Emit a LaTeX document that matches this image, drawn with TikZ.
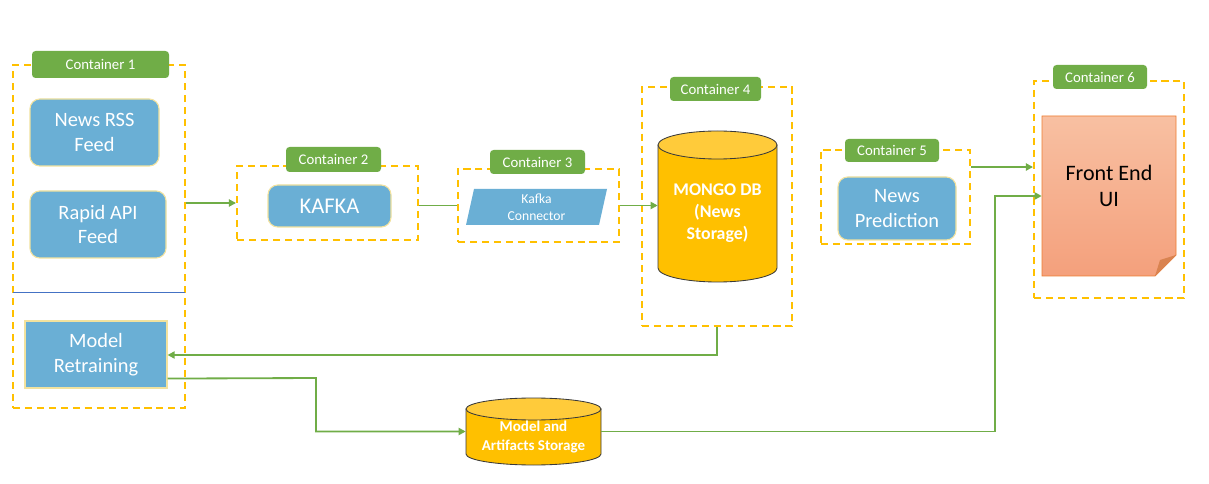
\documentclass[tikz,border=0pt]{standalone}
\usepackage{fontspec}
\setmainfont{Carlito}
\usetikzlibrary{arrows.meta,calc}
\newlength\pxl
\setlength\pxl{0.025cm}
\definecolor{boxblue}{HTML}{6AAFD5}
\definecolor{boxedge}{HTML}{F2E29E}
\definecolor{labgreen}{HTML}{70AD47}
\definecolor{dashy}{HTML}{FFC000}
\definecolor{cylfill}{HTML}{FFC000}
\definecolor{cyltop}{HTML}{FFCB3A}
\definecolor{cyledge}{HTML}{3A3A3A}
\definecolor{linkblue}{HTML}{4472C4}
\definecolor{feTop}{HTML}{F8C0A2}
\definecolor{feBot}{HTML}{F4A07C}
\definecolor{feEdge}{HTML}{ED7D31}
\definecolor{feFold}{HTML}{D98350}
\tikzset{
  cont/.style={draw=dashy, line width=1.4pt, dash pattern=on 5pt off 3.5pt, inner sep=0pt},
  lab/.style={fill=labgreen, rounded corners=2.5pt, text=white, inner sep=0pt,
    font=\fontsize{10.5}{12}\selectfont},
  rbox/.style={fill=boxblue, draw=boxedge, line width=0.8pt, rounded corners=7pt,
    text=white, align=center, inner sep=0pt, font=\fontsize{14.5}{17.7}\selectfont},
  sbox/.style={fill=boxblue, draw=boxedge, line width=0.8pt,
    text=white, align=center, inner sep=0pt, font=\fontsize{14.5}{17.7}\selectfont},
  ghost/.style={inner sep=0pt, align=center},
  arr/.style={draw=labgreen, line width=1.3pt, -{Triangle[length=5pt,width=5pt]}},
  lnk/.style={draw=labgreen, line width=1.3pt},
  cyl/.style={fill=cylfill, draw=cyledge, line width=0.6pt},
  cyltopst/.style={fill=cyltop, draw=cyledge, line width=0.6pt}
}
\begin{document}
\begin{tikzpicture}[x=0.025cm,y=-0.025cm]
\useasboundingbox[fill=white] (0,0) rectangle (1209,484);

% containers
\node[cont, minimum width=172\pxl, minimum height=343\pxl] (c1) at (99,236.5) {};
\node[cont, minimum width=181\pxl, minimum height=74\pxl] (c2) at (327.5,203) {};
\node[cont, minimum width=161\pxl, minimum height=73\pxl] (c3) at (538.5,205.5) {};
\node[cont, minimum width=150\pxl, minimum height=239\pxl] (c4) at (717,206.5) {};
\node[cont, minimum width=149\pxl, minimum height=94\pxl] (c5) at (895.5,197) {};
\node[cont, minimum width=150\pxl, minimum height=217\pxl] (c6) at (1109,189.5) {};

% labels
\node[lab, minimum width=137\pxl, minimum height=27\pxl] (l1) at (100.5,64.5) {Container 1};
\node[lab, minimum width=95\pxl, minimum height=25\pxl] (l2) at (333.5,159.5) {Container 2};
\node[lab, minimum width=95\pxl, minimum height=24\pxl] (l3) at (537.5,162) {Container 3};
\node[lab, minimum width=91\pxl, minimum height=24\pxl] (l4) at (715.5,89) {Container 4};
\node[lab, minimum width=94\pxl, minimum height=23\pxl] (l5) at (892,150.5) {Container 5};
\node[lab, minimum width=94\pxl, minimum height=24\pxl] (l6) at (1100,77) {Container 6};

% container 1 contents
\node[rbox, minimum width=129\pxl, minimum height=67\pxl] (rss) at (94.5,132.5) {News RSS\\Feed};
\node[rbox, minimum width=136\pxl, minimum height=67\pxl] (api) at (98,224.5) {Rapid API\\Feed};
\coordinate (sepL) at (13,292);
\coordinate (sepR) at (185,292);
\draw[linkblue, line width=0.7pt] (sepL) -- (sepR);
\node[sbox, minimum width=142\pxl, minimum height=67\pxl] (mr) at (96,354.5) {Model\\Retraining};

% KAFKA
\node[rbox, minimum width=123\pxl, minimum height=42\pxl, font=\fontsize{16}{19}\selectfont] (kafka) at (329.5,206) {KAFKA};

% Kafka connector (parallelogram)
\fill[boxblue] (474,189) -- (607,189) -- (599,225) -- (466,225) -- cycle;
\node[ghost, text=white, font=\fontsize{9.7}{12}\selectfont] (kc) at (536.5,207) {Kafka\\Connector};

% Mongo DB cylinder
\path[cyl] (658,145) -- (658,268) arc[start angle=180,end angle=360,x radius=59.5\pxl,y radius=14\pxl] -- (777,145) -- cycle;
\path[cyltopst] (717.5,145) ellipse[x radius=59.5\pxl, y radius=14\pxl];
\node[ghost, minimum width=119\pxl, minimum height=151\pxl] (m) at (717.5,206.5) {};
\node[ghost, text=white, font=\bfseries\fontsize{12.7}{15.6}\selectfont] (mt) at (717.5,213) {MONGO DB\\(News\\Storage)};

% News Prediction
\node[rbox, minimum width=118\pxl, minimum height=63\pxl] (np) at (897,208.5) {News\\Prediction};

% Front End UI document
\shade[top color=feTop, bottom color=feBot, draw=feEdge, line width=0.6pt]
  (1042,116) -- (1176,116) -- (1176,255) -- (1155,276) -- (1042,276) -- cycle;
\fill[feFold] (1176,255) -- (1155,276) -- (1160,260) -- cycle;
\node[ghost, minimum width=134\pxl, minimum height=160\pxl] (fe) at (1109,196) {};
\node[ghost, text=black, font=\fontsize{15.7}{19}\selectfont] (fet) at (1109,186) {Front End\\UI};

% Model storage cylinder
\path[cyl] (466,409) -- (466,454) arc[start angle=180,end angle=360,x radius=67.5\pxl,y radius=11\pxl] -- (601,409) -- cycle;
\path[cyltopst] (533.5,409) ellipse[x radius=67.5\pxl, y radius=11\pxl];
\node[ghost, minimum width=135\pxl, minimum height=67\pxl] (ms) at (533.5,431.5) {};
\node[ghost, text=white, font=\bfseries\fontsize{10.7}{13.4}\selectfont] (mst) at (533.5,437) {Model and\\Artifacts Storage};

% connectors
\draw[arr] (c1.east |- c2.west) -- (c2.west);
\draw[lnk] (c2.east |- c3.west) -- (c3.west);
\draw[arr] (c3.east) -- (m.west |- c3.east);
\coordinate (k0) at (717,355);
\draw[arr] (c4.south) -- (k0) -- (mr.east |- k0);
\coordinate (k1) at (316,378);
\draw[arr] ([yshift=10\pxl]mr.south east) -- (k1) |- (ms.west);
\coordinate (k2) at (995,196);
\draw[arr] (ms.east) -| (k2) -- (fe.west);
\coordinate (k3) at ([yshift=-18\pxl]c5.north east);
\draw[arr] (k3) -- (k3 -| c6.west);
\end{tikzpicture}
\end{document}
